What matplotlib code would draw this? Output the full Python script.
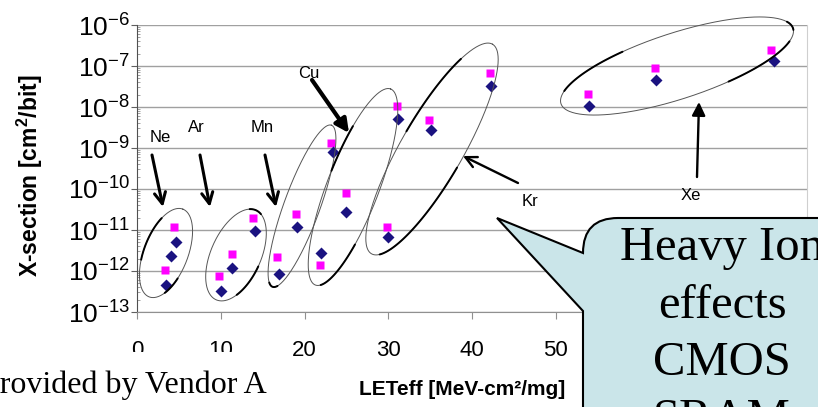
import numpy as np
import matplotlib
matplotlib.use('Agg')
import matplotlib.pyplot as plt
from matplotlib.path import Path
from matplotlib.patches import PathPatch, Rectangle
from matplotlib.ticker import LogLocator, NullFormatter

plt.rcParams['font.family'] = ['Liberation Sans', 'DejaVu Sans']
plt.rcParams['mathtext.fontset'] = 'custom'
plt.rcParams['mathtext.rm'] = 'Liberation Sans'
plt.rcParams['mathtext.bf'] = 'Liberation Sans:bold'
plt.rcParams['mathtext.it'] = 'Liberation Sans:italic'

# ---------------- data ----------------
# pink squares
let_sq = [3.3, 4.4, 9.8, 11.3, 13.9, 16.7, 19.0, 21.9, 23.2, 24.9,
          29.9, 31.0, 34.9, 42.1, 53.8, 61.9, 75.7]
xs_sq = [1.06e-12, 1.18e-11, 7.6e-13, 2.6e-12, 2.0e-11, 2.2e-12, 2.4e-11,
         1.44e-12, 1.3e-9, 8.0e-11, 1.18e-11, 1.05e-8, 4.8e-9, 6.9e-8,
         2.1e-8, 8.7e-8, 2.4e-7]
# navy diamonds
let_dm = [3.45, 4.0, 4.6, 10.0, 11.4, 14.1, 16.9, 19.1, 22.0, 23.4, 25.0,
          30.0, 31.2, 35.1, 42.3, 54.0, 62.0, 76.0]
xs_dm = [4.6e-13, 2.3e-12, 5.1e-12, 3.3e-13, 1.2e-12, 9.4e-12, 8.5e-13,
         1.18e-11, 2.8e-12, 8.0e-10, 2.8e-11, 6.6e-12, 5.1e-9, 2.7e-9,
         3.3e-8, 1.07e-8, 4.5e-8, 1.3e-7]

x_ticks = [0, 10, 20, 30, 40, 50, 60, 70, 80]
x_label = 'LETeff [MeV-cm\u00b2/mg]'
y_label = r'X-section [cm$^{\mathbf{2}}$/bit]'

ion_labels = ['Ne', 'Ar', 'Mn', 'Cu', 'Kr', 'Xe']
callout_lines = ['Heavy Ion', 'effects', 'CMOS', 'SRAM']
source_text = 'Provided by Vendor A'

# ---------------- figure ----------------
W, H = 818, 407
fig = plt.figure(figsize=(W / 100, H / 100), dpi=100)
fig.patch.set_facecolor('white')

ax = fig.add_axes([137 / W, 1 - 312 / H, 670 / W, 287 / H])
ax.set_yscale('log')
ax.set_xlim(0, 80)
ax.set_ylim(1e-13, 1e-6)
ax.set_xticks(x_ticks)
ax.yaxis.set_major_locator(LogLocator(base=10, numticks=20))
ax.yaxis.set_minor_locator(LogLocator(base=10, subs=np.arange(2, 10), numticks=20))
ax.yaxis.set_minor_formatter(NullFormatter())

ax.yaxis.grid(True, which='major', color='#a0a0a0', lw=1.0)
ax.set_axisbelow(True)

ax.plot(let_sq, xs_sq, linestyle='none', marker='s', ms=6.2,
        color='#ff00ff', mec='none', zorder=3)
ax.plot(let_dm, xs_dm, linestyle='none', marker='D', ms=5.8,
        color='#1a1280', mec='none', zorder=4)

ax.spines['top'].set_visible(False)
ax.spines['right'].set_color('#cfcfcf')
ax.spines['left'].set_color('#505050')
ax.spines['bottom'].set_color('#909090')

ax.tick_params(axis='x', which='major', direction='out', length=5, width=0.8,
               color='#909090', labelsize=16, pad=15)
ax.tick_params(axis='y', which='major', direction='out', length=4, width=0.8,
               color='#606060', labelsize=19, pad=1)
ax.tick_params(axis='y', which='minor', direction='in', length=2.5, width=0.6,
               color='#909090')

ax.set_xlabel(x_label, fontsize=15, fontweight='bold')
ax.xaxis.set_label_coords((462 - 137) / 670, -(380 - 312) / 287)
ax.set_ylabel(y_label, fontsize=16.5, fontweight='bold')
ax.yaxis.set_label_coords((45 - 137) / 670, (312 - 176) / 287)

# ---------------- overlay annotations (pixel space) ----------------
ov = fig.add_axes([0, 0, 1, 1], zorder=10)
ov.set_xlim(0, W)
ov.set_ylim(H, 0)
ov.axis('off')
ov.patch.set_visible(False)


def ellipse_pts(cx, cy, a, b, tilt, t):
    ar = np.radians(tilt)
    ux, uy = np.sin(ar), -np.cos(ar)
    vx, vy = np.cos(ar), np.sin(ar)
    x = cx + a * np.cos(t) * ux + b * np.sin(t) * vx
    y = cy + a * np.cos(t) * uy + b * np.sin(t) * vy
    return x, y


ellipses = [
    # cx, cy, a, b, tilt, thick arcs
    (166, 253, 47, 22, 21, [(-1.9, -0.85), (2.0, 2.5)]),
    (236, 255, 49, 25, 24, [(-0.25, 0.25), (1.6, 2.4)]),
    (302, 206, 86, 18, 20, [(2.9, 3.4)]),
    (353, 187, 105, 26, 21, [(-1.5, -1.0), (2.1, 2.95)]),
    (432, 149, 121, 31, 30, [(-1.55, -0.7), (1.6, 2.9)]),
    (677, 66, 122, 33, 72, [(-2.8, -1.97), (0.35, 1.2), (-0.25, 0.05)]),
]
tt = np.linspace(0, 2 * np.pi, 300)
for cx, cy, a, b, tilt, thick in ellipses:
    x, y = ellipse_pts(cx, cy, a, b, tilt, tt)
    ov.plot(x, y, color='#555555', lw=0.7)
    for t0, t1 in thick:
        ts = np.linspace(t0, t1, 60)
        x, y = ellipse_pts(cx, cy, a, b, tilt, ts)
        ov.plot(x, y, color='black', lw=1.4, solid_capstyle='round')

# arrows: (start, end, lw, style)
arrows = [
    ((152, 155), (163, 207), 2.2, '->'),
    ((200, 155), (210, 207), 2.2, '->'),
    ((265, 155), (276, 207), 2.2, '->'),
    ((312, 80), (349, 133), 3.0, '-|>'),
    ((518, 183), (463, 156), 1.7, '->'),
    ((697, 177), (699, 102), 1.7, '-|>'),
]
for (x0, y0), (x1, y1), lw, st in arrows:
    ov.annotate('', xy=(x1, y1), xytext=(x0, y0),
                arrowprops=dict(arrowstyle=st + ',head_length=0.8,head_width=0.4',
                                color='black', lw=lw, shrinkA=0, shrinkB=0))

label_pos = [(160, 137), (196, 128), (262, 128), (309, 73), (530, 201), (691, 196)]
for name, (lx, ly) in zip(ion_labels, label_pos):
    ov.text(lx, ly, name, fontsize=12, ha='center', va='center', color='black')

# callout bubble
verts = [
    (497, 218),
    (583, 253),
    (583, 218), (618, 218),
    (830, 218),
    (830, 420),
    (583, 420),
    (583, 311),
    (497, 218),
]
codes = [Path.MOVETO, Path.LINETO, Path.CURVE3, Path.CURVE3, Path.LINETO,
         Path.LINETO, Path.LINETO, Path.LINETO, Path.CLOSEPOLY]
ov.add_patch(PathPatch(Path(verts, codes), facecolor='#cae5e9',
                       edgecolor='black', lw=1.5, zorder=5))
for i, line in enumerate(callout_lines):
    ov.text(722, 260 + i * 57.5, line, fontsize=35, family='Liberation Serif',
            ha='center', va='baseline', color='black', zorder=6)

# source text with white background covering lower tick labels
ov.add_patch(Rectangle((0, 352), 278, 60, facecolor='white', edgecolor='none', zorder=4))
ov.text(-18, 393, source_text, fontsize=23, family='Liberation Serif',
        ha='left', va='baseline', color='black', zorder=6)

fig.savefig('out.png', dpi=100)
